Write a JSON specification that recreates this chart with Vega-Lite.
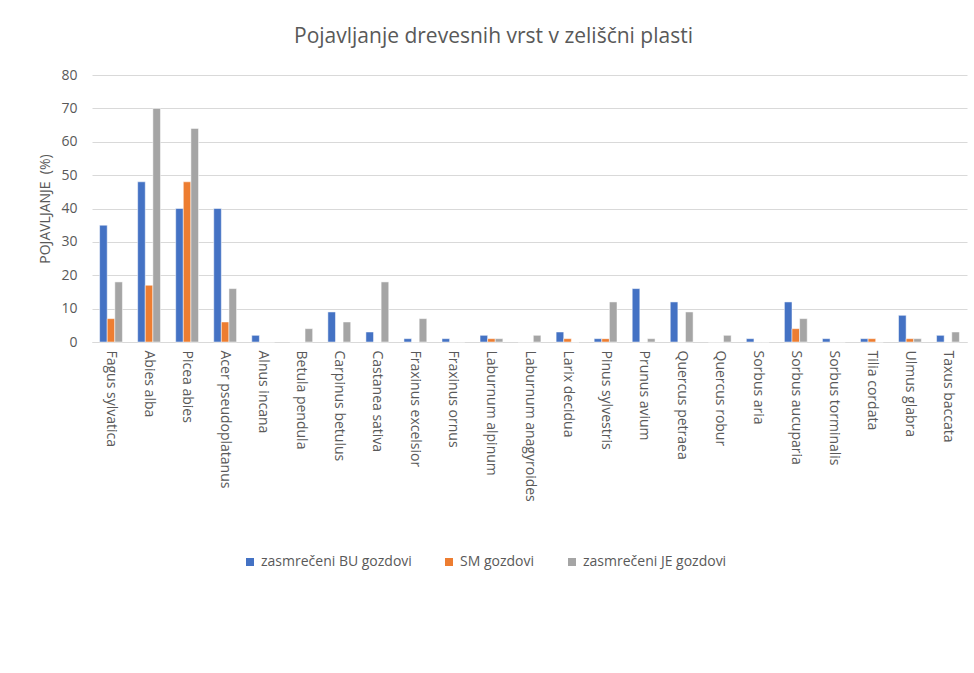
{
  "$schema": "https://vega.github.io/schema/vega-lite/v6.json",
  "autosize": "none",
  "width": 875,
  "height": 267,
  "padding": {"left": 92, "top": 75, "right": 7, "bottom": 331},
  "background": "white",
  "title": {
    "text": "Pojavljanje drevesnih vrst v zeliščni plasti",
    "anchor": "middle",
    "dx": -36,
    "offset": 21,
    "font": "Open Sans",
    "fontSize": 21,
    "fontWeight": "normal",
    "color": "#595959"
  },
  "data": {
    "values": [
      {"vrsta": "Fagus sylvatica", "serija": "zasmrečeni BU gozdovi", "v": 35},
      {"vrsta": "Fagus sylvatica", "serija": "SM gozdovi", "v": 7},
      {"vrsta": "Fagus sylvatica", "serija": "zasmrečeni JE gozdovi", "v": 18},
      {"vrsta": "Abies alba", "serija": "zasmrečeni BU gozdovi", "v": 48},
      {"vrsta": "Abies alba", "serija": "SM gozdovi", "v": 17},
      {"vrsta": "Abies alba", "serija": "zasmrečeni JE gozdovi", "v": 70},
      {"vrsta": "Picea abies", "serija": "zasmrečeni BU gozdovi", "v": 40},
      {"vrsta": "Picea abies", "serija": "SM gozdovi", "v": 48},
      {"vrsta": "Picea abies", "serija": "zasmrečeni JE gozdovi", "v": 64},
      {"vrsta": "Acer pseudoplatanus", "serija": "zasmrečeni BU gozdovi", "v": 40},
      {"vrsta": "Acer pseudoplatanus", "serija": "SM gozdovi", "v": 6},
      {"vrsta": "Acer pseudoplatanus", "serija": "zasmrečeni JE gozdovi", "v": 16},
      {"vrsta": "Alnus incana", "serija": "zasmrečeni BU gozdovi", "v": 2},
      {"vrsta": "Alnus incana", "serija": "SM gozdovi", "v": 0},
      {"vrsta": "Alnus incana", "serija": "zasmrečeni JE gozdovi", "v": 0},
      {"vrsta": "Betula pendula", "serija": "zasmrečeni BU gozdovi", "v": 0},
      {"vrsta": "Betula pendula", "serija": "SM gozdovi", "v": 0},
      {"vrsta": "Betula pendula", "serija": "zasmrečeni JE gozdovi", "v": 4},
      {"vrsta": "Carpinus betulus", "serija": "zasmrečeni BU gozdovi", "v": 9},
      {"vrsta": "Carpinus betulus", "serija": "SM gozdovi", "v": 0},
      {"vrsta": "Carpinus betulus", "serija": "zasmrečeni JE gozdovi", "v": 6},
      {"vrsta": "Castanea sativa", "serija": "zasmrečeni BU gozdovi", "v": 3},
      {"vrsta": "Castanea sativa", "serija": "SM gozdovi", "v": 0},
      {"vrsta": "Castanea sativa", "serija": "zasmrečeni JE gozdovi", "v": 18},
      {"vrsta": "Fraxinus excelsior", "serija": "zasmrečeni BU gozdovi", "v": 1},
      {"vrsta": "Fraxinus excelsior", "serija": "SM gozdovi", "v": 0},
      {"vrsta": "Fraxinus excelsior", "serija": "zasmrečeni JE gozdovi", "v": 7},
      {"vrsta": "Fraxinus ornus", "serija": "zasmrečeni BU gozdovi", "v": 1},
      {"vrsta": "Fraxinus ornus", "serija": "SM gozdovi", "v": 0},
      {"vrsta": "Fraxinus ornus", "serija": "zasmrečeni JE gozdovi", "v": 0},
      {"vrsta": "Laburnum alpinum", "serija": "zasmrečeni BU gozdovi", "v": 2},
      {"vrsta": "Laburnum alpinum", "serija": "SM gozdovi", "v": 1},
      {"vrsta": "Laburnum alpinum", "serija": "zasmrečeni JE gozdovi", "v": 1},
      {"vrsta": "Laburnum anagyroides", "serija": "zasmrečeni BU gozdovi", "v": 0},
      {"vrsta": "Laburnum anagyroides", "serija": "SM gozdovi", "v": 0},
      {"vrsta": "Laburnum anagyroides", "serija": "zasmrečeni JE gozdovi", "v": 2},
      {"vrsta": "Larix decidua", "serija": "zasmrečeni BU gozdovi", "v": 3},
      {"vrsta": "Larix decidua", "serija": "SM gozdovi", "v": 1},
      {"vrsta": "Larix decidua", "serija": "zasmrečeni JE gozdovi", "v": 0},
      {"vrsta": "Pinus sylvestris", "serija": "zasmrečeni BU gozdovi", "v": 1},
      {"vrsta": "Pinus sylvestris", "serija": "SM gozdovi", "v": 1},
      {"vrsta": "Pinus sylvestris", "serija": "zasmrečeni JE gozdovi", "v": 12},
      {"vrsta": "Prunus avium", "serija": "zasmrečeni BU gozdovi", "v": 16},
      {"vrsta": "Prunus avium", "serija": "SM gozdovi", "v": 0},
      {"vrsta": "Prunus avium", "serija": "zasmrečeni JE gozdovi", "v": 1},
      {"vrsta": "Quercus petraea", "serija": "zasmrečeni BU gozdovi", "v": 12},
      {"vrsta": "Quercus petraea", "serija": "SM gozdovi", "v": 0},
      {"vrsta": "Quercus petraea", "serija": "zasmrečeni JE gozdovi", "v": 9},
      {"vrsta": "Quercus robur", "serija": "zasmrečeni BU gozdovi", "v": 0},
      {"vrsta": "Quercus robur", "serija": "SM gozdovi", "v": 0},
      {"vrsta": "Quercus robur", "serija": "zasmrečeni JE gozdovi", "v": 2},
      {"vrsta": "Sorbus aria", "serija": "zasmrečeni BU gozdovi", "v": 1},
      {"vrsta": "Sorbus aria", "serija": "SM gozdovi", "v": 0},
      {"vrsta": "Sorbus aria", "serija": "zasmrečeni JE gozdovi", "v": 0},
      {"vrsta": "Sorbus aucuparia", "serija": "zasmrečeni BU gozdovi", "v": 12},
      {"vrsta": "Sorbus aucuparia", "serija": "SM gozdovi", "v": 4},
      {"vrsta": "Sorbus aucuparia", "serija": "zasmrečeni JE gozdovi", "v": 7},
      {"vrsta": "Sorbus torminalis", "serija": "zasmrečeni BU gozdovi", "v": 1},
      {"vrsta": "Sorbus torminalis", "serija": "SM gozdovi", "v": 0},
      {"vrsta": "Sorbus torminalis", "serija": "zasmrečeni JE gozdovi", "v": 0},
      {"vrsta": "Tilia cordata", "serija": "zasmrečeni BU gozdovi", "v": 1},
      {"vrsta": "Tilia cordata", "serija": "SM gozdovi", "v": 1},
      {"vrsta": "Tilia cordata", "serija": "zasmrečeni JE gozdovi", "v": 0},
      {"vrsta": "Ulmus glabra", "serija": "zasmrečeni BU gozdovi", "v": 8},
      {"vrsta": "Ulmus glabra", "serija": "SM gozdovi", "v": 1},
      {"vrsta": "Ulmus glabra", "serija": "zasmrečeni JE gozdovi", "v": 1},
      {"vrsta": "Taxus baccata", "serija": "zasmrečeni BU gozdovi", "v": 2},
      {"vrsta": "Taxus baccata", "serija": "SM gozdovi", "v": 0},
      {"vrsta": "Taxus baccata", "serija": "zasmrečeni JE gozdovi", "v": 3}
    ]
  },
  "mark": {"type": "bar", "stroke": "white", "strokeWidth": 0.5},
  "encoding": {
    "x": {
      "field": "vrsta",
      "type": "nominal",
      "sort": null,
      "title": null,
      "scale": {"paddingInner": 0.4, "paddingOuter": 0.2},
      "axis": {
        "labelAngle": 90,
        "labelAlign": "left",
        "labelBaseline": "middle",
        "labelPadding": 8,
        "labelFont": "Open Sans",
        "labelFontSize": 14,
        "labelColor": "#595959",
        "ticks": false,
        "domainColor": "#d9d9d9",
        "labelLimit": 300
      }
    },
    "xOffset": {"field": "serija", "type": "nominal", "sort": null},
    "y": {
      "field": "v",
      "type": "quantitative",
      "title": "POJAVLJANJE\u00a0\u00a0(%)",
      "scale": {"domain": [0, 80]},
      "axis": {
        "values": [0, 10, 20, 30, 40, 50, 60, 70, 80],
        "domain": false,
        "ticks": false,
        "labelPadding": 15,
        "labelFont": "Open Sans",
        "labelFontSize": 14,
        "labelColor": "#595959",
        "gridColor": "#d9d9d9",
        "titleFont": "Open Sans",
        "titleFontSize": 14,
        "titleFontWeight": "normal",
        "titleColor": "#595959",
        "titlePadding": 8
      }
    },
    "color": {
      "field": "serija",
      "type": "nominal",
      "sort": null,
      "scale": {
        "domain": ["zasmrečeni BU gozdovi", "SM gozdovi", "zasmrečeni JE gozdovi"],
        "range": ["#4472C4", "#ED7D31", "#A5A5A5"]
      },
      "legend": {
        "title": null,
        "orient": "none",
        "direction": "horizontal",
        "legendX": 151,
        "legendY": 480,
        "symbolType": "square",
        "symbolSize": 64,
        "symbolStrokeWidth": 0,
        "labelFont": "Open Sans",
        "labelFontSize": 14,
        "labelColor": "#595959",
        "columnPadding": 30,
        "labelLimit": 300
      }
    }
  },
  "config": {"view": {"stroke": null}}
}
